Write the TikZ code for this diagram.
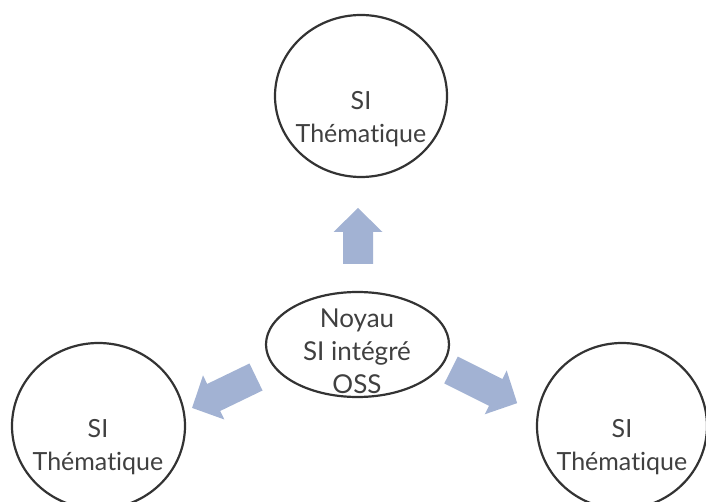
\documentclass[tikz,border=0pt]{standalone}
\usepackage{fontspec}
\setmainfont{Lato}[Ligatures={NoCommon}]
\usetikzlibrary{shapes.geometric}
\definecolor{ringc}{HTML}{333333}
\definecolor{textc}{HTML}{404040}
\definecolor{arrowc}{HTML}{A2B2D3}
\tikzset{
  ring/.style={draw=ringc, line width=2.2pt, ellipse, inner sep=0pt, fill=none},
  lbl/.style={text=textc, align=center, anchor=base, inner sep=0pt,
    font=\fontsize{25}{33}\selectfont},
  corelblstyle/.style={lbl, font=\fontsize{26}{33}\selectfont},
  blockarr/.style={fill=arrowc, draw=none}
}
% \blockarrow{tail x}{tail y}{canvas angle}{length}
\newcommand{\blockarrow}[4]{%
  \begin{scope}[shift={(#1,#2)}, rotate=#3]
    \fill[blockarr] (0,-15) -- (#4-24,-15) -- (#4-24,-24.5) -- (#4,0)
      -- (#4-24,24.5) -- (#4-24,15) -- (0,15) -- cycle;
  \end{scope}}
\begin{document}
\begin{tikzpicture}[x=1pt, y=-1pt]
\useasboundingbox (0,0) rectangle (706,502);
% rings
\node[ring, minimum width=172pt, minimum height=162pt] (top) at (361,96) {};
\node[ring, minimum width=173pt, minimum height=166pt] (left) at (98.5,426) {};
\node[ring, minimum width=170pt, minimum height=166pt] (right) at (622,426) {};
\node[ring, minimum width=183pt, minimum height=105pt] (core) at (357.5,344.5) {};
% labels (base = baseline of the last line)
\node[lbl] (toplbl) at (361,143) {SI\\Th\'ematique};
\node[lbl] (leftlbl) at (98,470) {SI\\Th\'ematique};
\node[lbl] (rightlbl) at (622,470) {SI\\Th\'ematique};
\node[corelblstyle] (corelbl) at (357,393) {Noyau\\SI int\'egr\'e\\OSS};
% block arrows
\blockarrow{358}{264}{90}{56}
\blockarrow{256}{377}{205.8}{71}
\blockarrow{451}{370}{-26.6}{74}
\end{tikzpicture}
\end{document}
